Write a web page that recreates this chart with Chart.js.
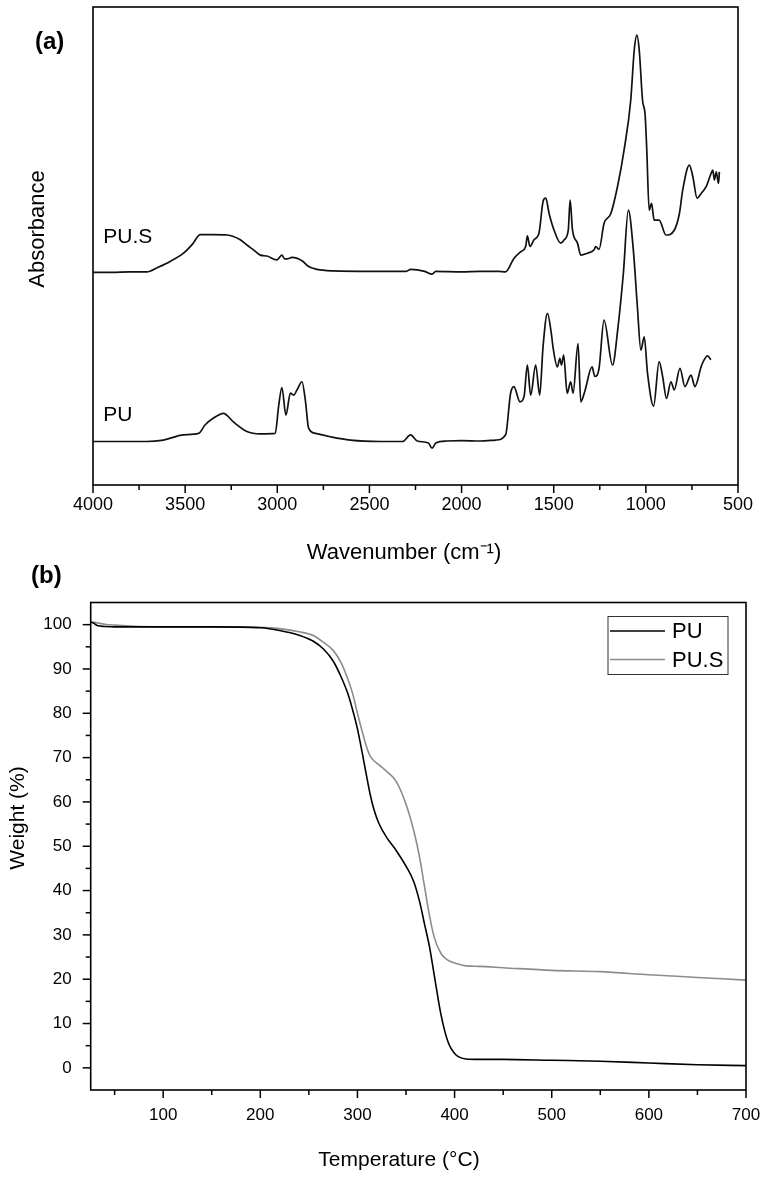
<!DOCTYPE html>
<html>
<head>
<meta charset="utf-8">
<script src="https://cdn.jsdelivr.net/npm/chart.js@4.4.1/dist/chart.umd.min.js"></script>
<style>
  html, body { margin: 0; padding: 0; background: #fff; }
  #wrap { position: relative; width: 763px; height: 1181px; }
  canvas { position: absolute; left: 0; }
  #ftir { top: 0; }
  #tga { top: 575px; }
  .panel { position: absolute; font: bold 24px "Liberation Sans", Arial, sans-serif; line-height: 24px; }
</style>
</head>
<body>
<div id="wrap">
  <canvas id="ftir" width="763" height="575"></canvas>
  <canvas id="tga" width="763" height="606"></canvas>
  <div class="panel" style="left:35px; top:29px;">(a)</div>
  <div class="panel" style="left:31px; top:563px;">(b)</div>
</div>
<script>
// (a) FTIR spectra, absorbance in arbitrary units (stacked)
const pusWavenumber = [4000, 3900, 3800, 3708, 3650, 3600, 3509, 3460, 3418, 3350, 3272, 3201, 3165, 3129, 3092, 3056, 3002, 2975, 2960, 2948, 2920, 2866, 2830, 2784, 2696, 2500, 2300, 2277, 2200, 2160, 2140, 2000, 1900, 1800, 1761, 1716, 1679, 1652, 1643, 1629, 1607, 1580, 1556, 1543, 1525, 1498, 1462, 1443, 1421, 1411, 1398, 1371, 1353, 1317, 1281, 1272, 1254, 1227, 1190, 1154, 1118, 1082, 1063, 1049, 1036, 1018, 1004, 995, 982, 969, 955, 928, 891, 846, 818, 800, 764, 745, 722, 700, 673, 646, 637, 628, 618, 606, 601];
const pusAbsorbance = [0.445, 0.445, 0.446, 0.446, 0.455, 0.464, 0.485, 0.504, 0.524, 0.524, 0.523, 0.513, 0.502, 0.492, 0.481, 0.479, 0.471, 0.481, 0.473, 0.473, 0.476, 0.469, 0.457, 0.451, 0.448, 0.447, 0.447, 0.451, 0.447, 0.441, 0.447, 0.446, 0.447, 0.447, 0.446, 0.474, 0.488, 0.499, 0.521, 0.499, 0.513, 0.527, 0.596, 0.600, 0.568, 0.533, 0.506, 0.513, 0.533, 0.596, 0.533, 0.506, 0.481, 0.485, 0.492, 0.499, 0.493, 0.547, 0.568, 0.624, 0.701, 0.805, 0.910, 0.941, 0.910, 0.805, 0.774, 0.701, 0.575, 0.589, 0.554, 0.554, 0.523, 0.533, 0.568, 0.617, 0.669, 0.645, 0.600, 0.610, 0.624, 0.652, 0.659, 0.638, 0.655, 0.631, 0.655];

const puWavenumber = [4000, 3800, 3710, 3618, 3509, 3427, 3391, 3346, 3292, 3238, 3165, 3092, 3011, 2993, 2975, 2953, 2929, 2911, 2893, 2866, 2848, 2830, 2793, 2712, 2603, 2440, 2320, 2277, 2240, 2180, 2160, 2140, 2080, 2000, 1900, 1815, 1761, 1734, 1716, 1683, 1661, 1643, 1625, 1598, 1576, 1558, 1534, 1513, 1504, 1480, 1467, 1458, 1446, 1427, 1408, 1395, 1368, 1353, 1332, 1292, 1277, 1254, 1227, 1181, 1151, 1122, 1095, 1068, 1046, 1027, 1009, 991, 958, 928, 909, 888, 864, 846, 815, 788, 755, 734, 697, 665, 647];
const puAbsorbance = [0.091, 0.091, 0.091, 0.094, 0.105, 0.108, 0.126, 0.140, 0.150, 0.132, 0.112, 0.107, 0.108, 0.164, 0.204, 0.146, 0.192, 0.188, 0.199, 0.216, 0.178, 0.119, 0.108, 0.101, 0.094, 0.091, 0.091, 0.105, 0.092, 0.088, 0.077, 0.088, 0.092, 0.093, 0.092, 0.094, 0.105, 0.192, 0.206, 0.174, 0.185, 0.251, 0.188, 0.251, 0.188, 0.289, 0.359, 0.317, 0.289, 0.247, 0.265, 0.251, 0.272, 0.192, 0.216, 0.192, 0.296, 0.174, 0.195, 0.247, 0.227, 0.244, 0.345, 0.251, 0.331, 0.443, 0.575, 0.492, 0.373, 0.282, 0.310, 0.234, 0.165, 0.258, 0.227, 0.181, 0.216, 0.199, 0.244, 0.206, 0.230, 0.206, 0.251, 0.270, 0.262];

const wavenumberTicks = [500, 750, 1000, 1250, 1500, 1750, 2000, 2250, 2500, 2750, 3000, 3250, 3500, 3750, 4000];

// (b) TGA curves
const temperature = [25, 28, 32, 40, 50, 75, 100, 150, 200, 220, 240, 255, 265, 275, 283, 290, 295, 300, 305, 309, 313, 317, 322, 330, 340, 350, 358, 364, 369, 374, 379, 386, 393, 401, 412, 425, 450, 500, 550, 600, 650, 700];
const puWeight = [100.5, 100.4, 99.8, 99.6, 99.5, 99.5, 99.5, 99.5, 99.3, 98.7, 97.6, 96.2, 94.5, 91.8, 88.3, 84.5, 80.8, 76.5, 71.0, 66.3, 61.8, 58.3, 55.2, 52.0, 49.0, 45.5, 42.0, 37.5, 32.5, 27.5, 21.0, 12.0, 6.0, 3.0, 2.0, 1.9, 1.9, 1.7, 1.5, 1.1, 0.7, 0.5];
const pusWeight = [100.7, 100.6, 100.4, 100.1, 99.9, 99.6, 99.5, 99.5, 99.4, 99.1, 98.4, 97.5, 96.0, 94.2, 91.5, 87.8, 84.5, 80.0, 75.8, 72.7, 70.4, 69.3, 68.4, 66.9, 64.6, 59.5, 53.5, 47.5, 41.0, 34.5, 29.5, 25.8, 24.3, 23.6, 23.0, 22.9, 22.6, 22.0, 21.7, 21.0, 20.4, 19.8];

const temperatureTicks = [50, 100, 150, 200, 250, 300, 350, 400, 450, 500, 550, 600, 650, 700];
const weightTicks = [0, 5, 10, 15, 20, 25, 30, 35, 40, 45, 50, 55, 60, 65, 70, 75, 80, 85, 90, 95, 100];

const FONT = '"Liberation Sans", Arial, sans-serif';
const pts = (xs, ys) => xs.map((x, i) => ({ x: x, y: ys[i] }));

// box around the plot area plus outward major/minor ticks
function frameTicks(axes) {
  return {
    id: 'frameTicks',
    afterDraw(chart) {
      const { ctx, chartArea: a } = chart;
      ctx.save();
      ctx.strokeStyle = '#000';
      ctx.lineWidth = 1.5;
      axes.forEach(ax => {
        const scale = chart.scales[ax.id];
        scale.ticks.forEach(t => {
          const len = Math.abs(t.value % ax.major) < 1e-6 ? 8 : 5;
          const p = scale.getPixelForValue(t.value);
          ctx.beginPath();
          if (scale.isHorizontal()) {
            ctx.moveTo(p, a.bottom);
            ctx.lineTo(p, a.bottom + len);
          } else {
            ctx.moveTo(a.left, p);
            ctx.lineTo(a.left - len, p);
          }
          ctx.stroke();
        });
      });
      ctx.lineWidth = 1.6;
      ctx.strokeRect(a.left, a.top, a.right - a.left, a.bottom - a.top);
      ctx.restore();
    }
  };
}

// free text: axis titles and curve labels
function texts(items) {
  return {
    id: 'texts',
    afterDraw(chart) {
      const ctx = chart.ctx;
      items.forEach(it => {
        const p = it.at(chart);
        ctx.save();
        ctx.font = it.font;
        ctx.fillStyle = '#000';
        ctx.textAlign = it.align || 'center';
        ctx.textBaseline = 'middle';
        ctx.translate(p.x, p.y);
        if (it.rotate) ctx.rotate(-Math.PI / 2);
        ctx.fillText(it.text, 0, 0);
        ctx.restore();
      });
    }
  };
}

const tgaLegend = {
  id: 'tgaLegend',
  afterDraw(chart) {
    const { ctx, chartArea: a } = chart;
    const w = 120, h = 58;
    const x0 = a.right - 18 - w, y0 = a.top + 14;
    ctx.save();
    ctx.strokeStyle = '#333';
    ctx.lineWidth = 1;
    ctx.strokeRect(x0, y0, w, h);
    ctx.font = '22px ' + FONT;
    ctx.textBaseline = 'middle';
    chart.data.datasets.forEach((ds, i) => {
      const y = y0 + 14.5 + i * 28.5;
      ctx.strokeStyle = ds.borderColor;
      ctx.lineWidth = ds.borderWidth;
      ctx.beginPath();
      ctx.moveTo(x0 + 2, y);
      ctx.lineTo(x0 + 57, y);
      ctx.stroke();
      ctx.fillStyle = '#000';
      ctx.fillText(ds.label, x0 + 64, y + 1);
    });
    ctx.restore();
  }
};

new Chart(document.getElementById('ftir'), {
  type: 'line',
  data: {
    datasets: [
      { label: 'PU.S', data: pts(pusWavenumber, pusAbsorbance), borderColor: '#111', borderWidth: 1.7,
        pointRadius: 0, cubicInterpolationMode: 'monotone', fill: false },
      { label: 'PU', data: pts(puWavenumber, puAbsorbance), borderColor: '#111', borderWidth: 1.7,
        pointRadius: 0, cubicInterpolationMode: 'monotone', fill: false }
    ]
  },
  options: {
    responsive: false,
    animation: false,
    events: [],
    layout: { padding: { left: 10, right: 25, top: 7, bottom: 0 } },
    plugins: { legend: { display: false }, tooltip: { enabled: false } },
    scales: {
      x: {
        type: 'linear', reverse: true, min: 500, max: 4000,
        afterBuildTicks: s => { s.ticks = wavenumberTicks.map(v => ({ value: v })); },
        afterFit: s => { s.height = 90; s.paddingLeft = 0; s.paddingRight = 0; },
        grid: { display: false, drawTicks: false },
        border: { display: false },
        ticks: {
          padding: 9, color: '#000', autoSkip: false, maxRotation: 0,
          font: { family: FONT, size: 18 },
          callback: v => (v % 500 === 0 ? String(v) : '')
        }
      },
      y: {
        min: 0, max: 1,
        afterFit: s => { s.width = 83; },
        ticks: { display: false },
        grid: { display: false },
        border: { display: false }
      }
    }
  },
  plugins: [
    frameTicks([{ id: 'x', major: 500 }]),
    texts([
      { text: 'Absorbance', font: '22px ' + FONT, rotate: true, at: () => ({ x: 38, y: 229 }) },
      { text: 'Wavenumber (cm\u207B\u00B9)', font: '22px ' + FONT, at: () => ({ x: 404, y: 553 }) },
      { text: 'PU.S', font: '21px ' + FONT, align: 'left',
        at: c => ({ x: c.scales.x.getPixelForValue(3944), y: c.scales.y.getPixelForValue(0.518) }) },
      { text: 'PU', font: '21px ' + FONT, align: 'left',
        at: c => ({ x: c.scales.x.getPixelForValue(3944), y: c.scales.y.getPixelForValue(0.146) }) }
    ])
  ]
});

new Chart(document.getElementById('tga'), {
  type: 'line',
  data: {
    datasets: [
      { label: 'PU', data: pts(temperature, puWeight), borderColor: '#000', borderWidth: 1.6,
        pointRadius: 0, cubicInterpolationMode: 'monotone', fill: false },
      { label: 'PU.S', data: pts(temperature, pusWeight), borderColor: '#8c8c8c', borderWidth: 1.6,
        pointRadius: 0, cubicInterpolationMode: 'monotone', fill: false }
    ]
  },
  options: {
    responsive: false,
    animation: false,
    events: [],
    layout: { padding: { left: 10, right: 17, top: 27.5, bottom: 0 } },
    plugins: { legend: { display: false }, tooltip: { enabled: false } },
    scales: {
      x: {
        type: 'linear', min: 25.4, max: 700,
        afterBuildTicks: s => { s.ticks = temperatureTicks.map(v => ({ value: v })); },
        afterFit: s => { s.height = 91; s.paddingLeft = 0; s.paddingRight = 0; },
        grid: { display: false, drawTicks: false },
        border: { display: false },
        ticks: {
          padding: 15, color: '#000', autoSkip: false, maxRotation: 0,
          font: { family: FONT, size: 17 },
          callback: v => (v % 100 === 0 ? String(v) : '')
        }
      },
      y: {
        min: -5, max: 105,
        afterBuildTicks: s => { s.ticks = weightTicks.map(v => ({ value: v })); },
        afterFit: s => { s.width = 80.7; s.paddingTop = 0; s.paddingBottom = 0; },
        grid: { display: false, drawTicks: false },
        border: { display: false },
        ticks: {
          padding: 19, color: '#000', autoSkip: false,
          font: { family: FONT, size: 17 },
          callback: v => (v % 10 === 0 ? String(v) : '')
        }
      }
    }
  },
  plugins: [
    frameTicks([{ id: 'x', major: 100 }, { id: 'y', major: 10 }]),
    tgaLegend,
    texts([
      { text: 'Weight (%)', font: '21px ' + FONT, rotate: true, at: () => ({ x: 18, y: 243 }) },
      { text: 'Temperature (\u00B0C)', font: '21px ' + FONT, at: () => ({ x: 399, y: 585 }) }
    ])
  ]
});
</script>
</body>
</html>
